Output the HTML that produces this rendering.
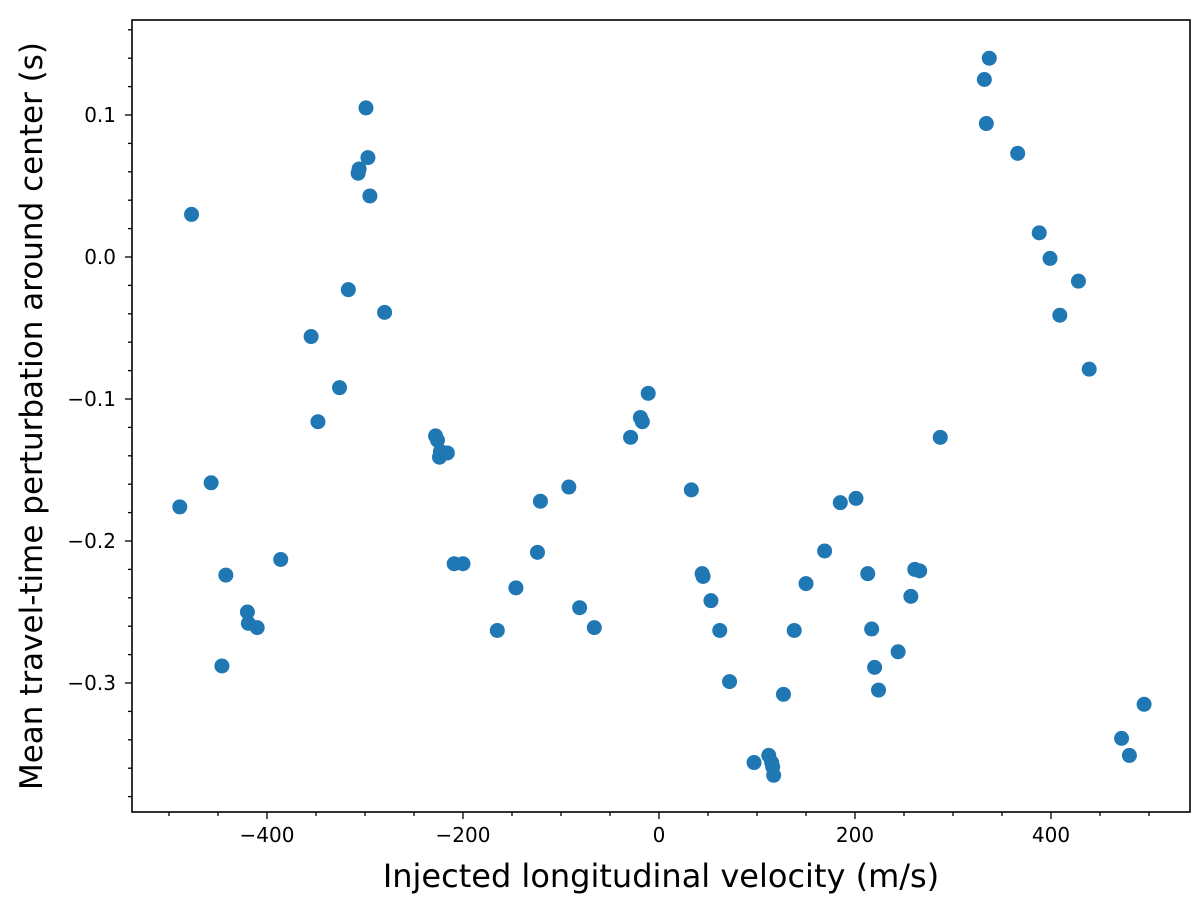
<!DOCTYPE html>
<html><head><meta charset="utf-8"><style>
body{margin:0;background:#fff;}
svg text{font-family:"DejaVu Sans","Liberation Sans",sans-serif;fill:#000;}
</style></head><body>
<svg id="chart" width="1200" height="905" xmlns="http://www.w3.org/2000/svg">
<g id="ticks"></g>
<g id="points"></g>
<rect x="132" y="20" width="1058" height="792" fill="none" stroke="#000" stroke-width="1.6"/>
<text x="661" y="887" font-size="32" text-anchor="middle">Injected longitudinal velocity (m/s)</text>
<text transform="translate(42,416) rotate(-90)" font-size="31" text-anchor="middle">Mean travel-time perturbation around center (s)</text>
</svg>
<script>
const velocities=[-489,-477,-457,-446,-442,-420,-419,-410,-386,-355,-348,-326,-317,-307,-306,-299,-297,-295,-280,-228,-226,-223,-224,-216,-209,-200,-165,-146,-124,-121,-92,-81,-66,-29,-19,-17,-11,33,44,45,53,62,72,97,112,115,116,117,127,138,150,169,185,201,213,217,220,224,244,257,261,266,287,332,334,337,366,388,399,409,428,439,472,480,495];
const perturbations=[-0.176,0.030,-0.159,-0.288,-0.224,-0.250,-0.258,-0.261,-0.213,-0.056,-0.116,-0.092,-0.023,0.059,0.062,0.105,0.070,0.043,-0.039,-0.126,-0.129,-0.137,-0.141,-0.138,-0.216,-0.216,-0.263,-0.233,-0.208,-0.172,-0.162,-0.247,-0.261,-0.127,-0.113,-0.116,-0.096,-0.164,-0.223,-0.225,-0.242,-0.263,-0.299,-0.356,-0.351,-0.356,-0.359,-0.365,-0.308,-0.263,-0.230,-0.207,-0.173,-0.170,-0.223,-0.262,-0.289,-0.305,-0.278,-0.239,-0.220,-0.221,-0.127,0.125,0.094,0.140,0.073,0.017,-0.001,-0.041,-0.017,-0.079,-0.339,-0.351,-0.315];
const xTickLabels=[-400,-200,0,200,400];
const yTickLabels=[0.1,0.0,-0.1,-0.2,-0.3];
const NS='http://www.w3.org/2000/svg';
function xs(v){return 659+v*0.98;}
function ys(v){return 257-v*1420;}
const tg=document.getElementById('ticks'), pg=document.getElementById('points');
function mk(tag,attrs,parent){const e=document.createElementNS(NS,tag);for(const k in attrs)e.setAttribute(k,attrs[k]);parent.appendChild(e);return e;}
for(let v=-500;v<=500;v+=50){
  const major=xTickLabels.includes(v);
  const l=mk('line',{x1:xs(v),x2:xs(v),y1:812,y2:812+(major?7:4),stroke:'#000','stroke-width':1.3},tg);
  
  
}
xTickLabels.forEach(v=>{
  const t=mk('text',{x:xs(v),y:842,'font-size':20,'text-anchor':'middle'},tg);
  t.textContent=(v<0?'\u2212':'')+Math.abs(v);
  
  
});
for(let i=-19;i<=8;i++){
  const v=i*0.02;
  const major=(i%5===0);
  const l=mk('line',{x1:132,x2:132-(major?7:4),y1:ys(v),y2:ys(v),stroke:'#000','stroke-width':1.3},tg);
  
  
}
yTickLabels.forEach(v=>{
  const t=mk('text',{x:116,y:ys(v)+7,'font-size':20,'text-anchor':'end'},tg);
  t.textContent=(v<0?'\u2212':'')+Math.abs(v).toFixed(1);
  
  
});
velocities.forEach((v,i)=>{
  const c=mk('circle',{cx:xs(v),cy:ys(perturbations[i]),r:7.5,fill:'#1f77b4'},pg);
  
  
});
</script>
</body></html>
